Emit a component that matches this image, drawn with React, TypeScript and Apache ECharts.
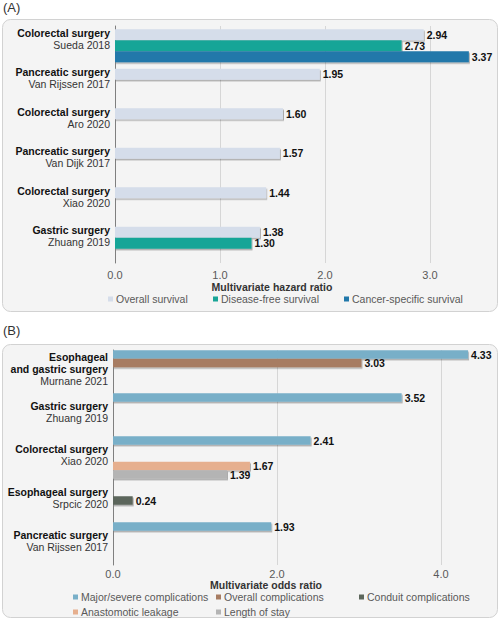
import React, { useEffect, useRef } from 'react';
import * as echarts from 'echarts';

const FONT = "'Liberation Sans', Arial, sans-serif";

// Panel A
const A_CATEGORIES = [
  'Colorectal surgery\nSueda 2018',
  'Pancreatic surgery\nVan Rijssen 2017',
  'Colorectal surgery\nAro 2020',
  'Pancreatic surgery\nVan Dijk 2017',
  'Colorectal surgery\nXiao 2020',
  'Gastric surgery\nZhuang 2019',
];
const A_OVERALL_SURVIVAL = [2.94, 1.95, 1.6, 1.57, 1.44, 1.38];
const A_DISEASE_FREE = [2.73, null, null, null, null, 1.3];
const A_CANCER_SPECIFIC = [3.37, null, null, null, null, null];

// Panel B
const B_CATEGORIES = [
  'Esophageal\nand gastric surgery\nMurnane 2021',
  'Gastric surgery\nZhuang 2019',
  'Colorectal surgery\nXiao 2020',
  'Esophageal surgery\nSrpcic 2020',
  'Pancreatic surgery\nVan Rijssen 2017',
];
const B_MAJOR = [4.33, 3.52, 2.41, null, 1.93];
const B_OVERALL = [3.03, null, null, null, null];
const B_CONDUIT = [null, null, null, 0.24, null];
const B_LEAKAGE = [null, null, 1.67, null, null];
const B_LOS = [null, null, 1.39, null, null];

const catFormatter = (v: string) => {
  const lines = v.split('\n');
  const last = lines.pop();
  return lines.map((l) => `{b|${l}}`).join('\n') + `\n{n|${last}}`;
};

const rich = {
  b: { fontFamily: FONT, fontWeight: 'bold', fontSize: 10.5, color: '#111', lineHeight: 12, align: 'right' },
  n: { fontFamily: FONT, fontSize: 10.5, color: '#333', lineHeight: 12, align: 'right' },
};

const valueLabel = {
  show: true,
  position: 'right',
  distance: 3,
  fontFamily: FONT,
  fontWeight: 'bold',
  fontSize: 10.5,
  color: '#111',
  formatter: (p: any) => Number(p.value).toFixed(2),
};

const shadow = {
  shadowColor: 'rgba(0,0,0,0.3)',
  shadowOffsetX: 1,
  shadowOffsetY: 1.5,
  shadowBlur: 1,
};

function barSeries(name: string, data: any[], color: string, axisIndex: number, width: number) {
  return {
    type: 'bar',
    name,
    data,
    xAxisIndex: axisIndex,
    yAxisIndex: axisIndex,
    barWidth: width,
    barGap: '0%',
    itemStyle: { color, ...shadow },
    label: valueLabel,
  };
}

function legendItem(name: string, left: number, top: number) {
  return {
    data: [name],
    left,
    top,
    icon: 'rect',
    itemWidth: 5,
    itemHeight: 5,
    padding: 0,
    selectedMode: false,
    textStyle: { fontFamily: FONT, fontSize: 10.5, lineHeight: 11, color: '#595959', padding: [0, 0, 0, -2] },
  };
}

export default function App() {
  const ref = useRef<HTMLDivElement>(null);
  useEffect(() => {
    if (!ref.current) return;
    const chart = echarts.init(ref.current, undefined, { renderer: 'svg' });
    const xAxisCommon = {
      type: 'value',
      min: 0,
      axisLine: { show: false },
      axisTick: { show: false },
      splitLine: { show: true, showMinLine: false, showMaxLine: false, lineStyle: { color: '#d6d6d6', width: 1 } },
    };
    const yAxisCommon = {
      type: 'category',
      inverse: true,
      axisTick: { show: false },
      axisLine: { show: true, lineStyle: { color: '#7f7f7f', width: 1 } },
      splitLine: { show: false },
    };
    chart.setOption({
      animation: false,
      graphic: [
        { type: 'rect', z: -10, shape: { x: 2.5, y: 19.5, width: 495, height: 292, r: 8 }, style: { fill: '#f4f4f4', stroke: '#d2d2d2', lineWidth: 1 } },
        { type: 'rect', z: -10, shape: { x: 2.5, y: 344.5, width: 495, height: 273, r: 8 }, style: { fill: '#f4f4f4', stroke: '#d2d2d2', lineWidth: 1 } },
        { type: 'text', left: 3, top: 1, style: { text: '(A)', fontFamily: FONT, fontSize: 13, fill: '#333' } },
        { type: 'text', left: 3, top: 324, style: { text: '(B)', fontFamily: FONT, fontSize: 13, fill: '#333' } },
        { type: 'text', x: 272, y: 286.5, style: { text: 'Multivariate hazard ratio', fontFamily: FONT, fontSize: 10.5, lineHeight: 11, fontWeight: 'bold', fill: '#333', align: 'center', verticalAlign: 'middle' } },
        { type: 'text', x: 266, y: 585, style: { text: 'Multivariate odds ratio', fontFamily: FONT, fontSize: 10.5, lineHeight: 11, fontWeight: 'bold', fill: '#333', align: 'center', verticalAlign: 'middle' } },
      ],
      grid: [
        { left: 115, top: 26, width: 367.5, height: 237, containLabel: false },
        { left: 113, top: 350, width: 369, height: 215, containLabel: false },
      ],
      xAxis: [
        {
          ...xAxisCommon,
          gridIndex: 0,
          max: 3.5,
          interval: 1,
          axisLabel: {
            margin: 6,
            showMaxLabel: false,
            fontFamily: FONT,
            fontSize: 11,
            lineHeight: 11,
            color: '#595959',
            formatter: (v: number) => (Number.isInteger(v) ? v.toFixed(1) : ''),
          },
        },
        {
          ...xAxisCommon,
          gridIndex: 1,
          max: 4.5,
          interval: 2,
          axisLabel: {
            margin: 3,
            showMaxLabel: false,
            fontFamily: FONT,
            fontSize: 11,
            lineHeight: 11,
            color: '#595959',
            formatter: (v: number) => (v % 2 === 0 ? v.toFixed(1) : ''),
          },
        },
      ],
      yAxis: [
        {
          ...yAxisCommon,
          gridIndex: 0,
          data: A_CATEGORIES,
          axisLabel: { margin: 5, formatter: catFormatter, rich, padding: [0, 0, 14, 0] },
        },
        {
          ...yAxisCommon,
          gridIndex: 1,
          data: B_CATEGORIES,
          axisLabel: { margin: 5, formatter: catFormatter, rich, padding: [0, 0, 6, 0] },
        },
      ],
      legend: [
        legendItem('Overall survival', 108, 293.5),
        legendItem('Disease-free survival', 213, 293.5),
        legendItem('Cancer-specific survival', 344, 293.5),
        legendItem('Major/severe complications', 73, 591.5),
        legendItem('Overall complications', 216, 591.5),
        legendItem('Conduit complications', 359, 591.5),
        legendItem('Anastomotic leakage', 73, 606.5),
        legendItem('Length of stay', 216, 606.5),
      ],
      series: [
        barSeries('Overall survival', A_OVERALL_SURVIVAL, '#d5ddea', 0, 11),
        barSeries('Disease-free survival', A_DISEASE_FREE, '#19a597', 0, 11),
        barSeries('Cancer-specific survival', A_CANCER_SPECIFIC, '#2178aa', 0, 11),
        barSeries('Major/severe complications', B_MAJOR, '#78afc8', 1, 8.5),
        barSeries('Overall complications', B_OVERALL, '#a77c62', 1, 8.5),
        barSeries('Conduit complications', B_CONDUIT, '#5c665b', 1, 8.5),
        barSeries('Anastomotic leakage', B_LEAKAGE, '#e6af8e', 1, 8.5),
        barSeries('Length of stay', B_LOS, '#b4b4b4', 1, 8.5),
      ],
    });
    return () => chart.dispose();
  }, []);
  return <div ref={ref} style={{ position: 'absolute', left: 0, top: 0, width: 500, height: 620 }} />;
}
